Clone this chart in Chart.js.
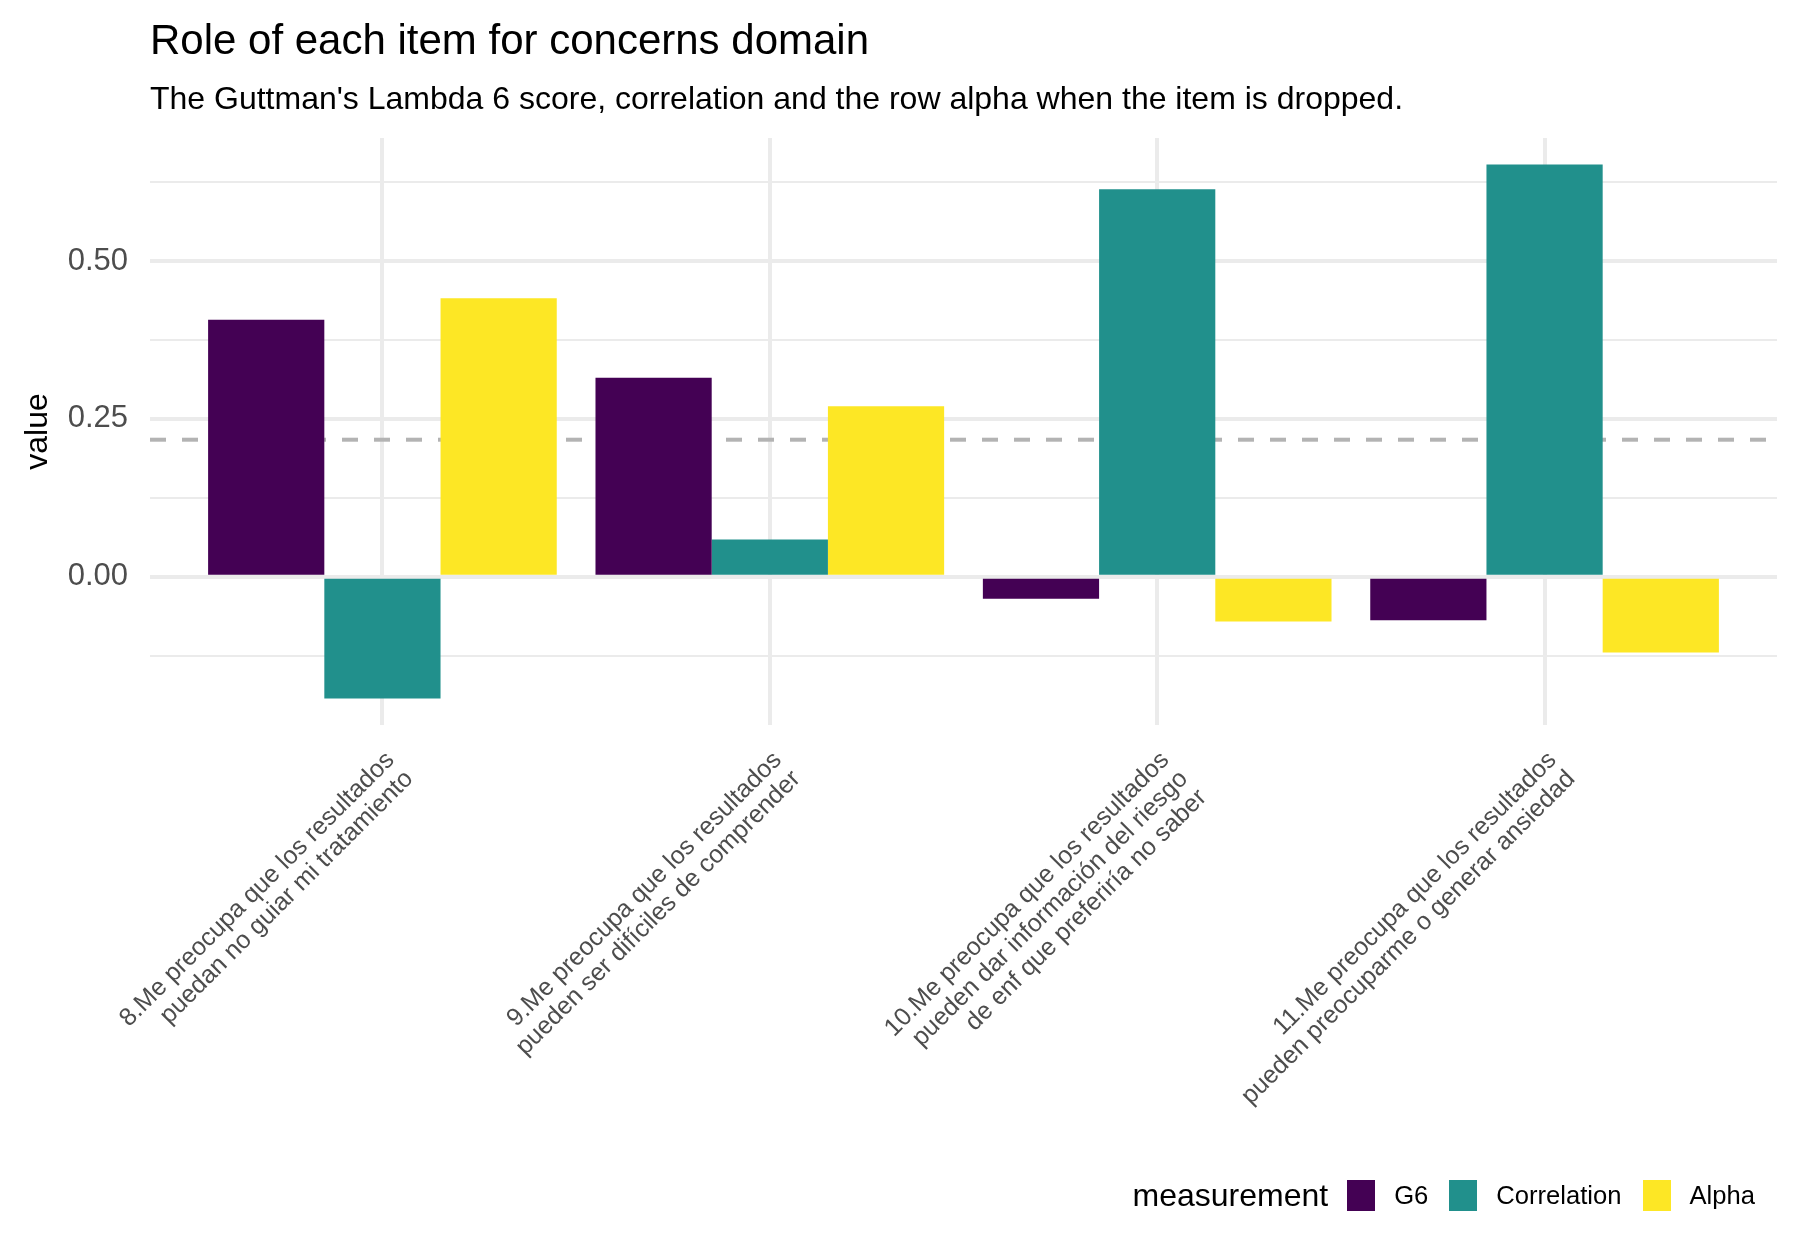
<!DOCTYPE html>
<html>
<head>
<meta charset="utf-8">
<script src="https://cdn.jsdelivr.net/npm/chart.js@4"></script>
<style>
  body { margin: 0; background: #fff; font-family: "Liberation Sans", Arial, sans-serif; }
  #wrap { position: relative; width: 1800px; height: 1259px; overflow: hidden; }
  #chart { position: absolute; left: 0; top: 0; }
  .title { position: absolute; left: 150px; top: 19px; font-size: 42px; line-height: 42px; color: #000; white-space: nowrap; }
  .subtitle { position: absolute; left: 150px; top: 82px; font-size: 32px; line-height: 32px; color: #000; white-space: nowrap; }
  #legend { position: absolute; right: 45px; top: 1179px; height: 32px; display: flex; align-items: center; }
  #legend .ltitle { font-size: 32px; line-height: 32px; margin-right: 19px; }
  #legend .key { width: 28px; height: 31px; margin-right: 19px; }
  #legend .lab { font-size: 25.6px; line-height: 32px; margin-right: 21px; }
  #legend .lab:last-child { margin-right: 0; }
</style>
</head>
<body>
<div id="wrap">
  <canvas id="chart" width="1800" height="1259"></canvas>
  <div class="title">Role of each item for concerns domain</div>
  <div class="subtitle">The Guttman's Lambda 6 score, correlation and the row alpha when the item is dropped.</div>
  <div id="legend"></div>
</div>
<script>
// items (x axis), one entry per line of the wrapped label
const categories = [
    ["8.Me preocupa que los resultados", "puedan no guiar mi tratamiento"],
    ["9.Me preocupa que los resultados", "pueden ser difíciles de comprender"],
    ["10.Me preocupa que los resultados", "pueden dar información del riesgo", "de enf que preferiría no saber"],
    ["11.Me preocupa que los resultados", "pueden preocuparme o generar ansiedad"]
];
const seriesNames = ["G6", "Correlation", "Alpha"];
const seriesColors = ["#440154", "#21908C", "#FDE725"];

const g6 = [0.407, 0.315, -0.035, -0.069];
const correlation = [-0.193, 0.059, 0.614, 0.653];
const alpha = [0.441, 0.270, -0.071, -0.120];

const refLine = 0.217; // dashed reference line
const yMin = -0.235, yMax = 0.695;
const yTicks = [-0.125, 0, 0.125, 0.25, 0.375, 0.5, 0.625];

const FONT = "'Liberation Sans', Arial, sans-serif";
const isMajor = v => Math.abs(v * 4 - Math.round(v * 4)) < 1e-9;

// html legend, ggplot style
const legendEl = document.getElementById("legend");
legendEl.innerHTML = '<span class="ltitle">measurement</span>' +
    seriesNames.map((n, i) =>
        '<span class="key" style="background:' + seriesColors[i] + '"></span><span class="lab">' + n + '</span>'
    ).join("");

const seriesValues = [g6, correlation, alpha];
const datasets = seriesNames.map((name, i) => ({
    type: "bar",
    label: name,
    data: seriesValues[i].map((v, j) => ({ x: j + 1, y: v })),
    backgroundColor: seriesColors[i],
    borderWidth: 0,
    categoryPercentage: 0.9,
    barPercentage: 1.0,
    order: 0
}));

// reference line sits under the bars
datasets.push({
    type: "line",
    label: "ref",
    data: [{ x: 0.4, y: refLine }, { x: categories.length + 0.6, y: refLine }],
    borderColor: "#B3B3B3",
    borderWidth: 4,
    borderDash: [16, 16],
    pointRadius: 0,
    order: 10
});

new Chart(document.getElementById("chart").getContext("2d"), {
    type: "bar",
    data: { datasets: datasets },
    options: {
        responsive: false,
        animation: false,
        devicePixelRatio: 1,
        layout: { padding: { left: 0, right: 23, top: 138, bottom: 0 } },
        plugins: { legend: { display: false }, tooltip: { enabled: false } },
        scales: {
            x: {
                type: "linear",
                offset: false,
                min: 0.4,
                max: categories.length + 0.6,
                afterBuildTicks: s => { s.ticks = categories.map((c, i) => ({ value: i + 1 })); },
                afterFit: s => { s.height = 534; },
                grid: { color: "#EBEBEB", lineWidth: 4, drawTicks: false, offset: false },
                border: { display: false },
                ticks: {
                    autoSkip: false,
                    minRotation: 45,
                    maxRotation: 45,
                    padding: 22,
                    labelOffset: 8,
                    color: "#4D4D4D",
                    font: { family: FONT, size: 25, lineHeight: 1.06 },
                    callback: (v, i) => categories[i]
                }
            },
            y: {
                min: yMin,
                max: yMax,
                afterBuildTicks: s => { s.ticks = yTicks.map(v => ({ value: v })); },
                afterFit: s => { s.width = 150; },
                grid: {
                    color: "#EBEBEB",
                    drawTicks: false,
                    lineWidth: c => (c.tick && isMajor(c.tick.value)) ? 4 : 2
                },
                border: { display: false },
                ticks: {
                    padding: 22,
                    color: "#4D4D4D",
                    font: { family: FONT, size: 31 },
                    callback: v => isMajor(v) ? v.toFixed(2) : ""
                },
                title: {
                    display: true,
                    text: "value",
                    color: "#000",
                    font: { family: FONT, size: 32, lineHeight: 1.2 },
                    padding: { top: 19, bottom: 0 }
                }
            }
        }
    }
});
</script>
</body>
</html>
